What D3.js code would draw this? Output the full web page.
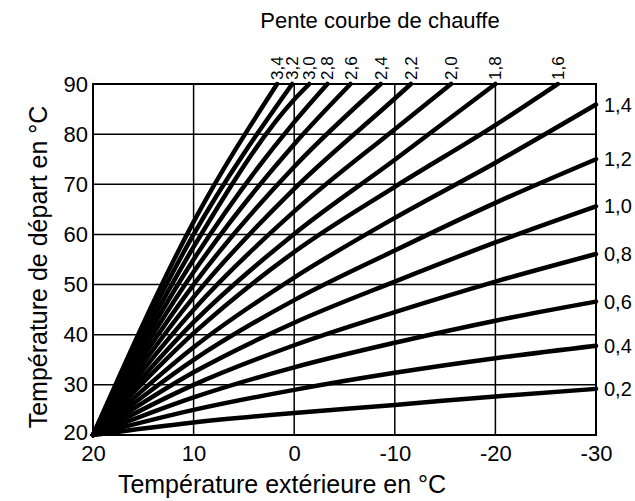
<!DOCTYPE html>
<html>
<head>
<meta charset="utf-8">
<script src="https://cdn.jsdelivr.net/npm/d3@7"></script>
<style>
  body { margin: 0; background: #fff; }
  text { font-family: "Liberation Sans", Arial, sans-serif; fill: #000; }
</style>
</head>
<body>
<svg id="chart" width="635" height="501"></svg>
<script>
// outdoor temperature ticks (x, reversed) and flow temperature ticks (y)
const xTicks = [20, 10, 0, -10, -20, -30];
const yTicks = [20, 30, 40, 50, 60, 70, 80, 90];

// heating curve slopes and their points [outdoor °C, flow °C]
const slopes = [0.2, 0.4, 0.6, 0.8, 1.0, 1.2, 1.4, 1.6, 1.8, 2.0, 2.2, 2.4, 2.6, 2.8, 3.0, 3.2, 3.4];
const slopeLabels = ['0,2', '0,4', '0,6', '0,8', '1,0', '1,2', '1,4', '1,6', '1,8', '2,0', '2,2', '2,4', '2,6', '2,8', '3,0', '3,2', '3,4'];

const curve02 = [[20, 20], [10, 22.5], [0, 24.4], [-10, 26.0], [-20, 27.7], [-30, 29.2]];
const curve04 = [[20, 20], [10, 25.0], [0, 29.0], [-10, 32.4], [-20, 35.3], [-30, 37.8]];
const curve06 = [[20, 20], [10, 27.5], [0, 33.5], [-10, 38.4], [-20, 42.8], [-30, 46.6]];
const curve08 = [[20, 20], [10, 30.0], [0, 37.9], [-10, 44.5], [-20, 50.6], [-30, 56.1]];
const curve10 = [[20, 20], [10, 32.5], [0, 42.4], [-10, 50.6], [-20, 58.4], [-30, 65.6]];
const curve12 = [[20, 20], [10, 35.0], [0, 46.9], [-10, 56.8], [-20, 66.3], [-30, 75.0]];
const curve14 = [[20, 20], [10, 37.5], [0, 51.4], [-10, 63.3], [-20, 74.3], [-30, 85.9]];
const curve16 = [[20, 20], [10, 40.3], [0, 56.5], [-10, 69.5], [-20, 81.8], [-26.2, 90]];
const curve18 = [[20, 20], [10, 42.5], [0, 60.1], [-10, 74.9], [-20, 90]];
const curve20 = [[20, 20], [10, 45.0], [0, 64.6], [-10, 81.0], [-15.6, 90]];
const curve22 = [[20, 20], [10, 47.5], [0, 69.1], [-10, 87.1], [-11.6, 90]];
const curve24 = [[20, 20], [10, 50.0], [0, 73.5], [-8.6, 90]];
const curve26 = [[20, 20], [10, 52.5], [0, 78.0], [-5.6, 90]];
const curve28 = [[20, 20], [10, 55.0], [0, 82.4], [-3.3, 90]];
const curve30 = [[20, 20], [10, 57.5], [0, 86.9], [-1.5, 90]];
const curve32 = [[20, 20], [10, 60.0], [0.2, 90]];
const curve34 = [[20, 20], [10, 62.5], [1.7, 90]];

const curves = [curve02, curve04, curve06, curve08, curve10, curve12, curve14, curve16, curve18,
                curve20, curve22, curve24, curve26, curve28, curve30, curve32, curve34];

const svg = d3.select('#chart');
const start = {x: 93, y: 84};
const stop = {x: 596, y: 435};

let xScale = d3.scaleLinear()
               .domain([20, -30])
               .range([start.x, stop.x]);
let yScale = d3.scaleLinear()
               .domain([20, 90])
               .range([stop.y, start.y]);

// grid
svg.selectAll('.vgrid')
   .data(xTicks)
   .enter()
   .append('line')
   .attr('class', 'vgrid')
   .attr('x1', d => xScale(d))
   .attr('x2', d => xScale(d))
   .attr('y1', start.y)
   .attr('y2', stop.y)
   .attr('stroke', 'black')
   .attr('stroke-width', 1.5);
svg.selectAll('.hgrid')
   .data(yTicks)
   .enter()
   .append('line')
   .attr('class', 'hgrid')
   .attr('x1', start.x)
   .attr('x2', stop.x)
   .attr('y1', d => yScale(d))
   .attr('y2', d => yScale(d))
   .attr('stroke', 'black')
   .attr('stroke-width', 1.5);
svg.append('rect')
   .attr('x', start.x)
   .attr('y', start.y)
   .attr('width', stop.x - start.x)
   .attr('height', stop.y - start.y)
   .attr('fill', 'none')
   .attr('stroke', 'black')
   .attr('stroke-width', 2);

// axes (labels only)
let xAxis = svg.append('g')
   .attr('transform', `translate(0,${stop.y})`)
   .call(d3.axisBottom(xScale).tickValues(xTicks).tickSize(0).tickPadding(10).tickFormat(d => d));
let yAxis = svg.append('g')
   .attr('transform', `translate(${start.x},0)`)
   .call(d3.axisLeft(yScale).tickValues(yTicks).tickSize(0).tickPadding(5).tickFormat(d => d));
[xAxis, yAxis].forEach(a => {
  a.select('.domain').remove();
  a.selectAll('text')
   .attr('font-size', '22px')
   .attr('font-family', '"Liberation Sans", Arial, sans-serif')
   .attr('fill', 'black');
});
// lift the bottom y label a little off the x labels
yAxis.selectAll('.tick text').filter(d => d === 20).attr('dy', '0.2em');

// curves
let lineFunction = d3.line()
                     .x(d => xScale(d[0]))
                     .y(d => yScale(d[1]))
                     .curve(d3.curveMonotoneX);
svg.selectAll('.curve')
   .data(curves)
   .enter()
   .append('path')
   .attr('class', 'curve')
   .attr('d', d => lineFunction(d))
   .attr('fill', 'none')
   .attr('stroke', 'black')
   .attr('stroke-width', 4.5)
   .attr('stroke-linecap', 'round');

// slope labels
curves.forEach((c, i) => {
  let last = c[c.length - 1];
  if(last[1] >= 90){
    svg.append('text')
       .attr('transform', `translate(${xScale(last[0]) + 6},${start.y - 4}) rotate(-90)`)
       .attr('font-size', '17px')
       .text(slopeLabels[i]);
  } else {
    svg.append('text')
       .attr('x', stop.x + 8)
       .attr('y', yScale(last[1]))
       .attr('dy', '0.35em')
       .attr('font-size', '20px')
       .text(slopeLabels[i]);
  }
});

// titles
svg.append('text')
   .attr('x', 380)
   .attr('y', 28)
   .attr('text-anchor', 'middle')
   .attr('font-size', '22px')
   .text('Pente courbe de chauffe');
svg.append('text')
   .attr('x', 282)
   .attr('y', 493)
   .attr('text-anchor', 'middle')
   .attr('font-size', '25px')
   .text('Température extérieure en °C');
svg.append('text')
   .attr('transform', 'translate(47,267) rotate(-90)')
   .attr('text-anchor', 'middle')
   .attr('font-size', '25px')
   .text('Température de départ en °C');
</script>
</body>
</html>
